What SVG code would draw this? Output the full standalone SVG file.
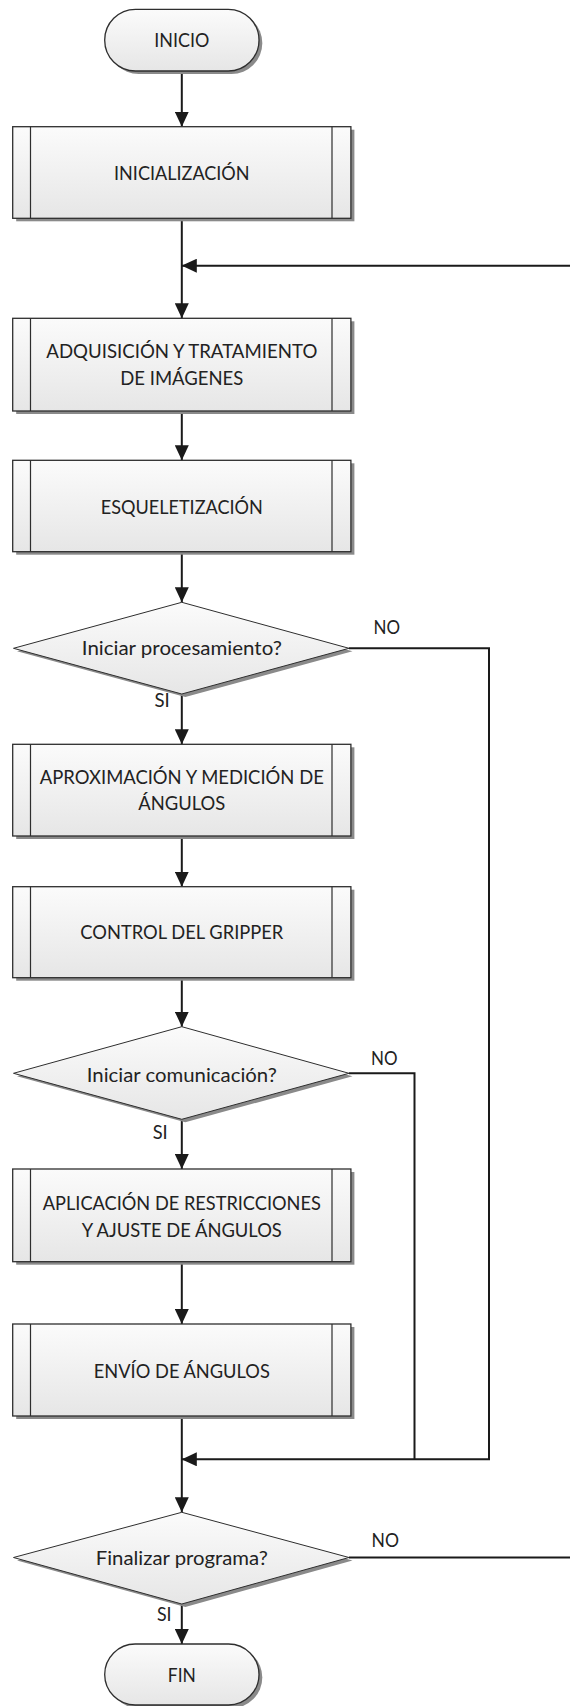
<svg xmlns="http://www.w3.org/2000/svg" width="570" height="1706" viewBox="0 0 570 1706">
<style>
.sh{fill:#8a8a8a;stroke:none}
.bx{fill:url(#g);stroke:#2e2e2e;stroke-width:1.3}
.dm{fill:url(#g);stroke:#2e2e2e;stroke-width:1}
.in{stroke:#2e2e2e;stroke-width:1.2;fill:none}
.t{font-family:"Lato","Liberation Sans",sans-serif;font-size:19.5px;fill:#222;text-anchor:middle}
.l{font-family:"Lato","Liberation Sans",sans-serif;font-size:19.5px;fill:#222}
.c{fill:none;stroke:#1a1a1a;stroke-width:2}
</style>
<defs>
<linearGradient id="g" x1="0" y1="0" x2="0" y2="1">
<stop offset="0" stop-color="#fbfbfb"/>
<stop offset="1" stop-color="#e6e6e6"/>
</linearGradient>
<marker id="a" viewBox="0 0 15 14" refX="15" refY="7" markerWidth="15" markerHeight="14" orient="auto" markerUnits="userSpaceOnUse">
<path d="M0,0 L15,7 L0,14 z" fill="#1a1a1a"/>
</marker>
</defs>

<g id="connectors">
<path class="c" d="M181.8,71 V126.7" marker-end="url(#a)"/>
<path class="c" d="M181.8,218.3 V318.3" marker-end="url(#a)"/>
<path class="c" d="M181.8,411 V460.3" marker-end="url(#a)"/>
<path class="c" d="M181.8,551.7 V602.3" marker-end="url(#a)"/>
<path class="c" d="M181.8,694 V744.3" marker-end="url(#a)"/>
<path class="c" d="M349,648.3 H489 V1459.3 H181.8" marker-end="url(#a)"/>
<path class="c" d="M181.8,836 V886.7" marker-end="url(#a)"/>
<path class="c" d="M181.8,977.7 V1026.7" marker-end="url(#a)"/>
<path class="c" d="M181.8,1119.3 V1169" marker-end="url(#a)"/>
<path class="c" d="M349,1073.3 H414.5 V1459.3"/>
<path class="c" d="M181.8,1261.7 V1324" marker-end="url(#a)"/>
<path class="c" d="M181.8,1416 V1512.3" marker-end="url(#a)"/>
<path class="c" d="M349,1557.5 H572 V265.7 H181.8" marker-end="url(#a)"/>
<path class="c" d="M181.8,1604 V1644" marker-end="url(#a)"/>
</g>

<g id="inicio">
<rect class="sh" x="108" y="12.3" width="154.3" height="61.7" rx="30.8"/>
<rect class="bx" x="104.7" y="9.3" width="154.3" height="61.7" rx="30.8"/>
<text class="t" x="181.8" y="47.3" textLength="55" lengthAdjust="spacingAndGlyphs">INICIO</text>
</g>

<g id="inicializacion">
<rect class="sh" x="16.2" y="129.7" width="338.2" height="91.6"/>
<rect class="bx" x="12.7" y="126.7" width="338.2" height="91.6"/>
<path class="in" d="M30.5,126.7 V218.3 M332,126.7 V218.3"/>
<text class="t" x="181.8" y="180" textLength="135.5" lengthAdjust="spacingAndGlyphs">INICIALIZACIÓN</text>
</g>

<g id="adquisicion">
<rect class="sh" x="16.2" y="321.3" width="338.2" height="92.7"/>
<rect class="bx" x="12.7" y="318.3" width="338.2" height="92.7"/>
<path class="in" d="M30.5,318.3 V411 M332,318.3 V411"/>
<text class="t" x="181.8" y="358.3" textLength="271" lengthAdjust="spacingAndGlyphs">ADQUISICIÓN Y TRATAMIENTO</text>
<text class="t" x="181.8" y="385" textLength="123" lengthAdjust="spacingAndGlyphs">DE IMÁGENES</text>
</g>

<g id="esqueletizacion">
<rect class="sh" x="16.2" y="463.3" width="338.2" height="91.4"/>
<rect class="bx" x="12.7" y="460.3" width="338.2" height="91.4"/>
<path class="in" d="M30.5,460.3 V551.7 M332,460.3 V551.7"/>
<text class="t" x="181.8" y="513.8" textLength="162" lengthAdjust="spacingAndGlyphs">ESQUELETIZACIÓN</text>
</g>

<g id="decision1">
<polygon class="sh" points="185.3,605.3 352.5,651.3 185.3,697 17,651.3"/>
<polygon class="dm" points="181.8,602.3 349,648.3 181.8,694 13.5,648.3"/>
<text class="t" x="181.8" y="655" textLength="200" lengthAdjust="spacingAndGlyphs">Iniciar procesamiento?</text>
<text class="l" x="373.5" y="634" textLength="26.5" lengthAdjust="spacingAndGlyphs">NO</text>
<text class="l" x="154.5" y="707" textLength="15.3" lengthAdjust="spacingAndGlyphs">SI</text>
</g>

<g id="aproximacion">
<rect class="sh" x="16.2" y="747.3" width="338.2" height="91.7"/>
<rect class="bx" x="12.7" y="744.3" width="338.2" height="91.7"/>
<path class="in" d="M30.5,744.3 V836 M332,744.3 V836"/>
<text class="t" x="181.8" y="784" textLength="284" lengthAdjust="spacingAndGlyphs">APROXIMACIÓN Y MEDICIÓN DE</text>
<text class="t" x="181.8" y="810" textLength="87" lengthAdjust="spacingAndGlyphs">ÁNGULOS</text>
</g>

<g id="gripper">
<rect class="sh" x="16.2" y="889.7" width="338.2" height="91"/>
<rect class="bx" x="12.7" y="886.7" width="338.2" height="91"/>
<path class="in" d="M30.5,886.7 V977.7 M332,886.7 V977.7"/>
<text class="t" x="181.8" y="939.3" textLength="203" lengthAdjust="spacingAndGlyphs">CONTROL DEL GRIPPER</text>
</g>

<g id="decision2">
<polygon class="sh" points="185.3,1029.7 352.5,1076.3 185.3,1122.3 17,1076.3"/>
<polygon class="dm" points="181.8,1026.7 349,1073.3 181.8,1119.3 13.5,1073.3"/>
<text class="t" x="181.8" y="1081.5" textLength="190" lengthAdjust="spacingAndGlyphs">Iniciar comunicación?</text>
<text class="l" x="371" y="1065" textLength="26.5" lengthAdjust="spacingAndGlyphs">NO</text>
<text class="l" x="152.7" y="1139" textLength="15" lengthAdjust="spacingAndGlyphs">SI</text>
</g>

<g id="aplicacion">
<rect class="sh" x="16.2" y="1172" width="338.2" height="92.7"/>
<rect class="bx" x="12.7" y="1169" width="338.2" height="92.7"/>
<path class="in" d="M30.5,1169 V1261.7 M332,1169 V1261.7"/>
<text class="t" x="181.8" y="1210" textLength="278" lengthAdjust="spacingAndGlyphs">APLICACIÓN DE RESTRICCIONES</text>
<text class="t" x="181.8" y="1236.7" textLength="200" lengthAdjust="spacingAndGlyphs">Y AJUSTE DE ÁNGULOS</text>
</g>

<g id="envio">
<rect class="sh" x="16.2" y="1327" width="338.2" height="92"/>
<rect class="bx" x="12.7" y="1324" width="338.2" height="92"/>
<path class="in" d="M30.5,1324 V1416 M332,1324 V1416"/>
<text class="t" x="181.8" y="1377.7" textLength="176" lengthAdjust="spacingAndGlyphs">ENVÍO DE ÁNGULOS</text>
</g>

<g id="decision3">
<polygon class="sh" points="185.3,1515.3 352.5,1560.5 185.3,1607 17,1560.5"/>
<polygon class="dm" points="181.8,1512.3 349,1557.5 181.8,1604 13.5,1557.5"/>
<text class="t" x="181.8" y="1565.3" textLength="172" lengthAdjust="spacingAndGlyphs">Finalizar programa?</text>
<text class="l" x="371.6" y="1546.7" textLength="27.4" lengthAdjust="spacingAndGlyphs">NO</text>
<text class="l" x="157" y="1620.7" textLength="14.6" lengthAdjust="spacingAndGlyphs">SI</text>
</g>

<g id="fin">
<rect class="sh" x="108" y="1647" width="154.3" height="61" rx="30.5"/>
<rect class="bx" x="104.7" y="1644" width="154.3" height="61" rx="30.5"/>
<text class="t" x="181.8" y="1682.3" textLength="28" lengthAdjust="spacingAndGlyphs">FIN</text>
</g>
</svg>
